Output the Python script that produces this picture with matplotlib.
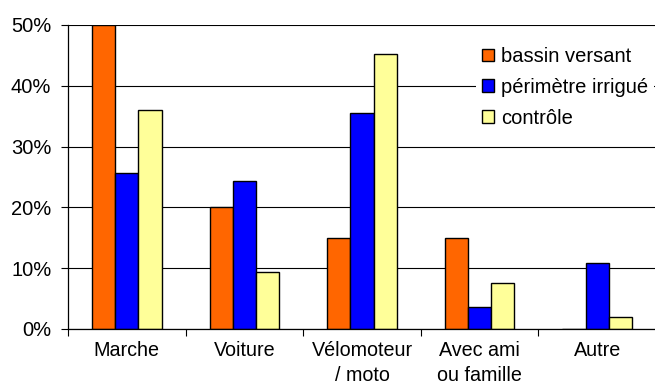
import matplotlib
matplotlib.use("Agg")
import matplotlib.pyplot as plt
import numpy as np

plt.rcParams['font.family'] = ['Liberation Sans', 'DejaVu Sans']

categories = ["Marche", "Voiture", "Vélomoteur\n/ moto", "Avec ami\nou famille", "Autre"]
series_names = ["bassin versant", "périmètre irrigué", "contrôle"]
bassin_versant = [50.0, 20.0, 15.0, 15.0, 0.0]
perimetre_irrigue = [25.6, 24.4, 35.6, 3.6, 10.8]
controle = [36.0, 9.3, 45.3, 7.6, 1.9]
colors = ["#FF6600", "#0000FF", "#FFFF99"]
yticks = [0, 10, 20, 30, 40, 50]
ytick_labels = ["0%", "10%", "20%", "30%", "40%", "50%"]

fig = plt.figure(figsize=(6.55, 3.87), dpi=100)
ax = fig.add_axes([68 / 655, 1 - 329 / 387, 588 / 655, 304 / 387])

x = np.arange(len(categories))
width = 0.197
for i, (vals, name, c) in enumerate(zip([bassin_versant, perimetre_irrigue, controle], series_names, colors)):
    ax.bar(x + (i - 1) * width, vals, width, color=c, edgecolor="black", linewidth=1.0,
           label=name, zorder=3)

ax.set_xlim(-0.5, len(categories) - 0.5)
ax.set_ylim(0, 50)
ax.set_yticks(yticks)
ax.set_yticklabels(ytick_labels)
ax.yaxis.grid(True, color="black", linewidth=0.8, zorder=0)
ax.set_axisbelow(True)

ax.set_xticks(x)
ax.set_xticklabels(categories, linespacing=1.35)
ax.set_xticks(np.arange(-0.5, len(categories), 1.0), minor=True)
ax.tick_params(axis="x", which="major", length=0, pad=9)
ax.tick_params(axis="x", which="minor", length=5, width=0.8, color="black")
ax.tick_params(axis="y", length=5, width=0.8, pad=7)
ax.tick_params(axis="y", labelsize=14.5)
ax.tick_params(axis="x", labelsize=14.2)

for side in ["top", "right"]:
    ax.spines[side].set_visible(False)
for side in ["left", "bottom"]:
    ax.spines[side].set_linewidth(0.9)
    ax.spines[side].set_zorder(4)

leg = ax.legend(loc="upper left", bbox_to_anchor=(398 / 588, 0.98), frameon=True,
                fontsize=14.5, handlelength=0.6, handleheight=0.6, handletextpad=0.35,
                labelspacing=0.58, borderpad=0.3, fancybox=False)
leg.get_frame().set_edgecolor("none")
leg.get_frame().set_facecolor("white")
leg.get_frame().set_alpha(1.0)
leg.set_zorder(5)

fig.savefig("out.png", dpi=100)
